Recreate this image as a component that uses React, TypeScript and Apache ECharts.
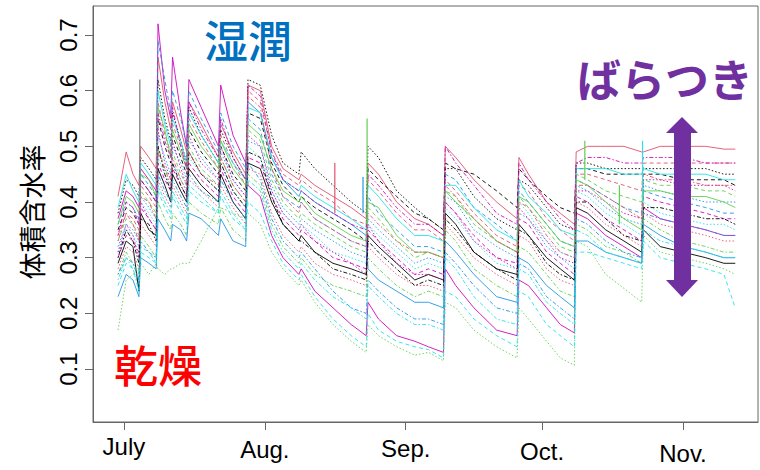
import React, { useEffect, useRef } from "react";
import * as echarts from "echarts";

// day offsets from July 1 at which the sensor curves are sampled
const days = [-1.3, 0.5, 2, 3.3, 3.7, 5.5, 7.1, 7.5, 9, 10.3, 10.7, 12.5, 13.8, 14.3, 17, 20.8, 21.3, 24, 26.8, 27.3, 30, 32.5, 35, 38.5, 39, 42, 46, 50, 53.3, 53.7, 56, 60, 64, 67, 70.3, 70.7, 73, 77, 82, 86.5, 86.9, 89, 93, 96, 99.1, 99.5, 102, 106, 110, 113.9, 114.3, 118, 123, 128, 132, 134.5];

const sA = [0.41,0.49,0.45,0.43,0.50,0.48,0.46, 0.66,0.58,0.53,0.58,0.53,0.49,0.58,0.54,0.48,0.54,0.49,0.45, 0.61,0.60,0.50,0.46,0.44,0.45,0.43,0.41,0.39,0.37, 0.47,0.45,0.40,0.37,0.36,0.34, 0.50,0.48,0.44,0.40,0.37, 0.48,0.45,0.40,0.38,0.36, 0.49,0.50,0.50,0.50,0.49, 0.49,0.50,0.50,0.50,0.495,0.495];
const sB = [0.35,0.39,0.38,0.36,0.44,0.42,0.40, 0.55,0.50,0.47,0.52,0.48,0.45,0.53,0.49,0.45,0.50,0.45,0.42, 0.56,0.55,0.47,0.43,0.40,0.41,0.39,0.37,0.35,0.33, 0.46,0.44,0.41,0.38,0.37,0.35, 0.47,0.46,0.45,0.42,0.39, 0.46,0.44,0.41,0.39,0.38, 0.46,0.46,0.45,0.45,0.45, 0.45,0.45,0.44,0.44,0.44,0.43];
const sC = [0.37,0.42,0.41,0.39,0.46,0.44,0.42, 0.72,0.60,0.55,0.66,0.56,0.50,0.62,0.57,0.50,0.61,0.52,0.47, 0.43,0.41,0.34,0.30,0.27,0.28,0.24,0.21,0.18,0.16, 0.22,0.19,0.16,0.15,0.14,0.13, 0.28,0.25,0.21,0.17,0.16, 0.26,0.25,0.21,0.18,0.165, 0.38,0.37,0.34,0.32,0.30, 0.39,0.37,0.36,0.35,0.34,0.34];
const sD = [0.36,0.40,0.39,0.37,0.45,0.43,0.41, 0.69,0.62,0.56,0.60,0.55,0.50,0.60,0.55,0.49,0.56,0.50,0.46, 0.55,0.53,0.45,0.41,0.39,0.40,0.37,0.35,0.33,0.32, 0.41,0.38,0.35,0.32,0.32,0.31, 0.45,0.44,0.39,0.36,0.33, 0.42,0.40,0.36,0.33,0.32, 0.44,0.43,0.41,0.39,0.38, 0.42,0.41,0.40,0.39,0.38,0.38];
const sE = [0.17,0.26,0.27,0.28,0.29,0.27,0.29, 0.28,0.27,0.28,0.28,0.29,0.29,0.29,0.33,0.39,0.39,0.38,0.37, 0.38,0.36,0.31,0.28,0.25,0.26,0.22,0.18,0.15,0.13, 0.18,0.16,0.14,0.125,0.13,0.115, 0.22,0.21,0.17,0.14,0.12, 0.21,0.19,0.15,0.12,0.107, 0.33,0.32,0.27,0.245,0.22, 0.34,0.31,0.30,0.29,0.28,0.27];
const sF = [0.25,0.29,0.28,0.25,0.31,0.30,0.29, 0.42,0.39,0.37,0.41,0.38,0.36,0.42,0.40,0.38,0.41,0.37,0.35, 0.40,0.38,0.33,0.29,0.26,0.27,0.23,0.19,0.16,0.14, 0.20,0.17,0.15,0.14,0.135,0.12, 0.24,0.23,0.19,0.16,0.14, 0.24,0.23,0.18,0.16,0.14, 0.31,0.31,0.30,0.29,0.28, 0.33,0.30,0.29,0.28,0.27,0.21];
const sG = [0.38,0.44,0.43,0.41,0.48,0.46,0.44, 0.62,0.55,0.51,0.56,0.51,0.47,0.57,0.52,0.47,0.53,0.48,0.44, 0.62,0.61,0.52,0.47,0.45,0.49,0.46,0.43,0.40,0.38, 0.50,0.48,0.42,0.39,0.37,0.35, 0.46,0.46,0.41,0.37,0.35, 0.44,0.43,0.39,0.36,0.35, 0.47,0.47,0.46,0.46,0.46, 0.46,0.46,0.46,0.46,0.45,0.45];
const sH = [0.34,0.38,0.37,0.35,0.43,0.41,0.39, 0.58,0.52,0.49,0.54,0.50,0.46,0.55,0.51,0.46,0.52,0.47,0.43, 0.60,0.58,0.49,0.45,0.43,0.44,0.42,0.40,0.37,0.36, 0.44,0.42,0.38,0.35,0.35,0.33, 0.44,0.42,0.38,0.34,0.32, 0.43,0.42,0.37,0.35,0.33, 0.45,0.45,0.44,0.43,0.42, 0.47,0.47,0.47,0.47,0.47,0.47];
const sI = [0.33,0.37,0.36,0.34,0.42,0.40,0.38, 0.50,0.46,0.44,0.49,0.45,0.43,0.50,0.46,0.43,0.48,0.43,0.40, 0.53,0.51,0.44,0.40,0.37,0.38,0.36,0.34,0.32,0.31, 0.39,0.37,0.33,0.30,0.31,0.30, 0.42,0.41,0.36,0.33,0.31, 0.41,0.39,0.35,0.32,0.31, 0.45,0.44,0.42,0.41,0.40, 0.44,0.43,0.43,0.42,0.42,0.41];
const sJ = [0.32,0.36,0.35,0.33,0.41,0.39,0.37, 0.52,0.48,0.45,0.50,0.47,0.44,0.51,0.48,0.44,0.49,0.44,0.41, 0.51,0.50,0.43,0.39,0.36,0.37,0.35,0.33,0.31,0.30, 0.37,0.35,0.32,0.29,0.30,0.29, 0.41,0.40,0.35,0.32,0.30, 0.38,0.37,0.32,0.30,0.28, 0.43,0.42,0.39,0.37,0.36, 0.43,0.42,0.41,0.40,0.40,0.40];
const sK = [0.31,0.35,0.34,0.32,0.40,0.38,0.36, 0.48,0.45,0.43,0.47,0.44,0.42,0.48,0.45,0.42,0.47,0.42,0.39, 0.50,0.48,0.42,0.38,0.35,0.36,0.34,0.31,0.30,0.29, 0.36,0.34,0.31,0.28,0.29,0.28, 0.39,0.37,0.33,0.29,0.28, 0.40,0.38,0.33,0.31,0.30, 0.42,0.41,0.38,0.36,0.34, 0.40,0.38,0.37,0.36,0.36,0.35];
const sL = [0.30,0.34,0.33,0.31,0.39,0.37,0.35, 0.47,0.44,0.42,0.46,0.43,0.41,0.47,0.44,0.41,0.46,0.41,0.38, 0.48,0.47,0.41,0.37,0.34,0.35,0.33,0.30,0.29,0.28, 0.35,0.33,0.30,0.27,0.28,0.27, 0.40,0.38,0.34,0.30,0.29, 0.37,0.36,0.31,0.29,0.27, 0.41,0.40,0.37,0.35,0.33, 0.41,0.40,0.39,0.38,0.37,0.37];
const sM = [0.29,0.33,0.32,0.24,0.38,0.35,0.34, 0.46,0.43,0.40,0.45,0.42,0.40,0.46,0.43,0.40,0.45,0.40,0.37, 0.47,0.46,0.40,0.36,0.33,0.34,0.31,0.29,0.28,0.27, 0.34,0.32,0.29,0.26,0.27,0.26, 0.38,0.36,0.31,0.28,0.27, 0.36,0.34,0.30,0.28,0.26, 0.39,0.38,0.35,0.33,0.31, 0.35,0.32,0.31,0.30,0.29,0.29];
const sN = [0.28,0.32,0.31,0.28,0.36,0.34,0.32, 0.44,0.41,0.39,0.43,0.40,0.38,0.44,0.42,0.39,0.43,0.39,0.36, 0.46,0.45,0.38,0.34,0.31,0.32,0.29,0.27,0.26,0.25, 0.32,0.30,0.27,0.25,0.25,0.24, 0.36,0.34,0.30,0.27,0.25, 0.34,0.33,0.28,0.26,0.25, 0.40,0.39,0.36,0.34,0.32, 0.38,0.36,0.35,0.34,0.33,0.33];
const sO = [0.27,0.31,0.29,0.27,0.34,0.32,0.30, 0.40,0.37,0.35,0.38,0.36,0.34,0.40,0.38,0.36,0.39,0.35,0.33, 0.45,0.43,0.36,0.32,0.29,0.30,0.27,0.25,0.24,0.23, 0.30,0.28,0.25,0.23,0.24,0.23, 0.35,0.33,0.28,0.25,0.23, 0.32,0.31,0.27,0.24,0.23, 0.36,0.35,0.32,0.31,0.29, 0.37,0.35,0.33,0.32,0.31,0.31];
const sP = [0.23,0.27,0.26,0.23,0.30,0.29,0.28, 0.37,0.35,0.33,0.36,0.35,0.33,0.38,0.37,0.34,0.37,0.33,0.32, 0.58,0.56,0.48,0.44,0.41,0.42,0.40,0.38,0.36,0.34, 0.28,0.26,0.24,0.22,0.22,0.21, 0.33,0.31,0.27,0.23,0.22, 0.30,0.29,0.25,0.23,0.21, 0.33,0.33,0.31,0.30,0.29, 0.36,0.34,0.32,0.31,0.30,0.30];
const sQ = [0.39,0.45,0.42,0.40,0.47,0.45,0.43, 0.60,0.54,0.50,0.55,0.51,0.47,0.56,0.52,0.47,0.51,0.47,0.44, 0.57,0.56,0.48,0.44,0.42,0.43,0.41,0.39,0.37,0.35, 0.43,0.41,0.37,0.34,0.34,0.33, 0.43,0.43,0.39,0.35,0.33, 0.44,0.41,0.38,0.35,0.34, 0.46,0.46,0.46,0.45,0.45, 0.46,0.45,0.45,0.45,0.44,0.44];
const sR = [0.31,0.36,0.34,0.30,0.40,0.37,0.35, 0.53,0.47,0.44,0.51,0.46,0.43,0.52,0.47,0.44,0.50,0.44,0.41, 0.52,0.50,0.42,0.38,0.35,0.36,0.33,0.31,0.29,0.27, 0.36,0.33,0.29,0.27,0.27,0.26, 0.40,0.38,0.33,0.30,0.28, 0.39,0.37,0.33,0.30,0.29, 0.42,0.42,0.40,0.38,0.37, 0.44,0.44,0.43,0.43,0.43,0.42];
const sS = [0.30,0.35,0.33,0.29,0.37,0.36,0.33, 0.50,0.45,0.42,0.47,0.43,0.41,0.49,0.45,0.42,0.47,0.42,0.39, 0.49,0.48,0.41,0.36,0.33,0.33,0.31,0.28,0.27,0.26, 0.33,0.31,0.28,0.25,0.26,0.25, 0.37,0.35,0.31,0.28,0.26, 0.35,0.34,0.29,0.27,0.26, 0.40,0.40,0.37,0.34,0.33, 0.39,0.39,0.38,0.37,0.37,0.36];
const sT = [0.36,0.41,0.40,0.38,0.45,0.44,0.41, 0.57,0.53,0.48,0.53,0.49,0.46,0.54,0.50,0.46,0.51,0.46,0.43, 0.54,0.52,0.46,0.42,0.40,0.41,0.38,0.36,0.34,0.33, 0.40,0.39,0.34,0.31,0.31,0.30, 0.42,0.40,0.37,0.33,0.31, 0.41,0.40,0.36,0.33,0.32, 0.44,0.43,0.40,0.37,0.35, 0.42,0.42,0.41,0.41,0.40,0.39];
const sU = [0.27,0.30,0.29,0.26,0.33,0.31,0.30, 0.45,0.42,0.40,0.44,0.41,0.39,0.45,0.42,0.40,0.44,0.40,0.37, 0.47,0.44,0.37,0.33,0.30,0.31,0.28,0.24,0.21,0.20, 0.26,0.24,0.21,0.19,0.19,0.18, 0.31,0.29,0.25,0.21,0.20, 0.29,0.28,0.23,0.21,0.19, 0.37,0.36,0.33,0.31,0.30, 0.38,0.37,0.36,0.35,0.34,0.34];
const sV = [0.33,0.38,0.36,0.33,0.41,0.40,0.37, 0.49,0.46,0.43,0.48,0.44,0.42,0.49,0.45,0.43,0.48,0.43,0.40, 0.59,0.57,0.46,0.41,0.38,0.40,0.37,0.35,0.33,0.32, 0.38,0.36,0.33,0.31,0.31,0.30, 0.43,0.41,0.37,0.33,0.31, 0.40,0.39,0.34,0.31,0.30, 0.43,0.43,0.41,0.39,0.37, 0.45,0.44,0.44,0.43,0.43,0.43];
const sW = [0.26,0.30,0.28,0.24,0.32,0.31,0.29, 0.43,0.40,0.38,0.42,0.39,0.37,0.43,0.41,0.38,0.42,0.38,0.35, 0.44,0.42,0.35,0.31,0.28,0.29,0.26,0.23,0.21,0.19, 0.25,0.23,0.20,0.18,0.18,0.17, 0.30,0.28,0.23,0.19,0.18, 0.28,0.27,0.22,0.20,0.18, 0.35,0.34,0.31,0.30,0.29, 0.35,0.33,0.32,0.31,0.30,0.30];
const sX = [0.34,0.40,0.39,0.36,0.44,0.42,0.40, 0.56,0.51,0.48,0.57,0.50,0.46,0.58,0.53,0.48,0.55,0.48,0.44, 0.61,0.59,0.49,0.44,0.42,0.42,0.40,0.38,0.36,0.35, 0.45,0.43,0.39,0.36,0.36,0.34, 0.50,0.47,0.43,0.38,0.36, 0.47,0.44,0.40,0.37,0.35, 0.47,0.48,0.48,0.47,0.47, 0.48,0.48,0.48,0.47,0.47,0.47];

const sensorValues = [sA, sB, sC, sD, sE, sF, sG, sH, sI, sJ, sK, sL, sM, sN, sO, sP, sQ, sR, sS, sT, sU, sV, sW, sX];

// short rain spikes
const spikeDays = [3.5, 46.4, 52.6, 53.5, 101.4, 109, 114.1];
const spikeLow = [0.42, 0.38, 0.38, 0.36, 0.44, 0.36, 0.40];
const spikeHigh = [0.62, 0.47, 0.445, 0.55, 0.51, 0.43, 0.51];

const monthDays = [0, 31, 62, 92, 123];
const monthLabels = ["July", "Aug.", "Sep.", "Oct.", "Nov."];
const yTicks = [0.1, 0.2, 0.3, 0.4, 0.5, 0.6, 0.7];

// styles
const PAL = { black: "#000000", red: "#DF536B", green: "#61D04F", blue: "#2297E6", cyan: "#28E2E5", magenta: "#CD0BBC" };
const lineColors = [
  PAL.red, PAL.black, PAL.magenta, PAL.blue, PAL.green, PAL.cyan, PAL.black, PAL.red,
  PAL.green, PAL.blue, PAL.cyan, PAL.magenta, PAL.black, PAL.red, PAL.green, PAL.blue,
  PAL.cyan, PAL.magenta, PAL.black, PAL.green, PAL.blue, PAL.red, PAL.cyan, PAL.magenta,
];
const DASH: any = { solid: "solid", dashed: [4, 3], dotted: [1.5, 2], dotdash: [1.5, 2, 4, 2] };
const lineDashes = [
  "solid", "dashed", "solid", "dashed", "dotted", "dashed", "dotted", "dashed",
  "dashed", "dotted", "dotted", "dashed", "solid", "dotted", "dotdash", "solid",
  "solid", "dotted", "dotdash", "solid", "dotdash", "dotdash", "dotdash", "dotdash",
];
const spikeColors = ["#777777", PAL.red, PAL.blue, PAL.green, PAL.green, PAL.green, PAL.cyan];
const labelOffsets = [0, 3, 2, 5, 7];

export default function App() {
  const ref = useRef<HTMLDivElement>(null);
  useEffect(() => {
    if (!ref.current) return;
    const chart = echarts.init(ref.current, null, { renderer: "svg" });
    const series: any[] = sensorValues.map((vals, k) => ({
      type: "line",
      data: days.map((d, i) => [d, vals[i]]),
      symbol: "none",
      silent: true,
      z: 2,
      lineStyle: { color: lineColors[k], width: 1, type: DASH[lineDashes[k]], opacity: 0.9 },
    }));
    spikeDays.forEach((d, i) => {
      series.push({
        type: "line",
        data: [[d, spikeLow[i]], [d, spikeHigh[i]]],
        symbol: "none",
        silent: true,
        z: 3,
        lineStyle: { color: spikeColors[i], width: 1.2 },
      });
    });
    const rich: any = {};
    monthLabels.forEach((_, i) => {
      rich["m" + i] = { fontSize: 24, color: "#000", fontFamily: "Liberation Sans, Arial, sans-serif", padding: [labelOffsets[i], 0, 0, 0] };
    });
    const option: any = {
      animation: false,
      backgroundColor: "#fff",
      grid: { left: 93, right: 2, top: 6, bottom: 48, show: true, borderColor: "#666", borderWidth: 1 },
      xAxis: {
        type: "value",
        min: -6.8,
        max: 139.5,
        splitLine: { show: false },
        axisLine: { show: true, onZero: false, lineStyle: { color: "#666" } },
        axisTick: { show: true, customValues: monthDays, length: 8, lineStyle: { color: "#666" } },
        axisLabel: {
          customValues: monthDays,
          margin: 12,
          formatter: (v: number) => {
            const i = monthDays.indexOf(Math.round(v));
            return i >= 0 ? `{m${i}|${monthLabels[i]}}` : "";
          },
          rich,
        },
      },
      yAxis: {
        type: "value",
        min: 0.005,
        max: 0.752,
        splitLine: { show: false },
        axisLine: { show: true, onZero: false, lineStyle: { color: "#666" } },
        axisTick: { show: true, customValues: yTicks, length: 8, lineStyle: { color: "#666" } },
        axisLabel: {
          customValues: yTicks,
          rotate: 90,
          margin: 13,
          fontSize: 24,
          color: "#000",
          fontFamily: "Liberation Sans, Arial, sans-serif",
          formatter: (v: number) => v.toFixed(1),
        },
      },
      graphic: [
        {
          type: "text", x: 31, y: 212, rotation: Math.PI / 2, z: 10,
          style: { text: "体積含水率", fontSize: 27, fill: "#000", fontFamily: "Noto Sans CJK JP", align: "center", verticalAlign: "middle" },
        },
        {
          type: "text", x: 248, y: 39, z: 10,
          style: { text: "湿潤", fontSize: 44, fill: "#0070C0", fontFamily: "Noto Sans CJK JP", fontWeight: 500, align: "center", verticalAlign: "middle" },
        },
        {
          type: "text", x: 158, y: 364, z: 10,
          style: { text: "乾燥", fontSize: 44, fill: "#FF0000", fontFamily: "Noto Sans CJK JP", fontWeight: 500, align: "center", verticalAlign: "middle" },
        },
        {
          type: "text", x: 665, y: 78, z: 10,
          style: { text: "ばらつき", fontSize: 44, fill: "#7030A0", fontFamily: "Noto Sans CJK JP", fontWeight: "bold", align: "center", verticalAlign: "middle" },
        },
        {
          type: "polygon", z: 10,
          shape: {
            points: [[682, 117], [698, 133], [691, 133], [691, 280], [698, 280], [682, 297], [666, 280], [674, 280], [674, 133], [666, 133]],
          },
          style: { fill: "#7030A0" },
        },
      ],
      series,
    };
    chart.setOption(option);
    return () => chart.dispose();
  }, []);
  return <div ref={ref} style={{ position: "fixed", left: 0, top: 0, width: 760, height: 470 }} />;
}
